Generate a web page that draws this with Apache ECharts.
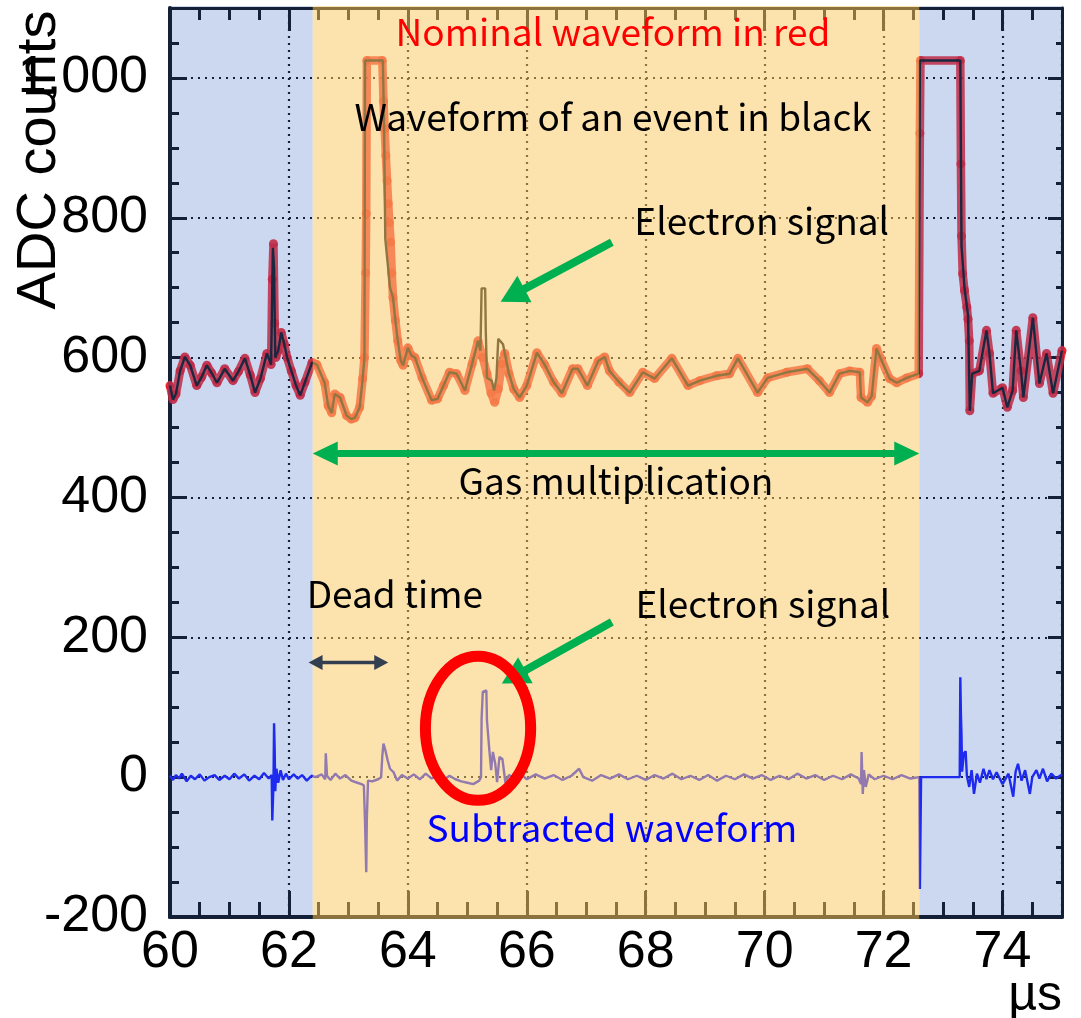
<!DOCTYPE html>
<html>
<head>
<meta charset="utf-8">
<script src="https://cdn.jsdelivr.net/npm/echarts@6/dist/echarts.min.js"></script>
<style>
  html, body { margin: 0; padding: 0; background: #fff; }
  #main { width: 1081px; height: 1018px; }
</style>
</head>
<body>
<div id="main"></div>
<script>
// time (us), ADC counts -- nominal waveform (red)
var nominalWave = [
  [60.00, 560], [60.05, 540], [60.10, 548], [60.17, 581], [60.25, 601], [60.34, 589],
  [60.45, 560], [60.53, 572], [60.62, 589], [60.70, 578], [60.79, 564], [60.92, 584],
  [61.06, 567], [61.15, 580], [61.26, 599], [61.35, 575], [61.43, 550], [61.52, 570],
  [61.63, 606], [61.70, 590], [61.72, 712], [61.74, 763], [61.76, 649], [61.78, 600],
  [61.82, 610], [61.87, 636], [61.92, 620], [61.97, 600], [62.04, 581], [62.12, 560],
  [62.19, 546], [62.27, 565], [62.39, 593], [62.47, 590], [62.60, 564], [62.66, 531],
  [62.72, 521], [62.77, 548], [62.86, 543], [62.97, 517], [63.05, 512], [63.11, 514],
  [63.19, 529], [63.24, 570], [63.27, 600], [63.29, 721], [63.30, 806], [63.31, 1025],
  [63.57, 1025], [63.59, 967], [63.61, 927], [63.63, 889], [63.65, 853], [63.67, 820],
  [63.69, 793], [63.71, 765], [63.73, 721], [63.75, 686], [63.79, 653], [63.83, 624],
  [63.88, 596], [63.92, 589], [64.00, 614], [64.06, 603], [64.12, 600], [64.24, 571],
  [64.40, 539], [64.50, 541], [64.60, 560], [64.70, 579], [64.82, 577], [64.96, 553],
  [65.08, 591], [65.18, 624], [65.26, 600], [65.33, 577], [65.40, 549], [65.46, 536],
  [65.52, 555], [65.58, 591], [65.63, 606], [65.70, 577], [65.78, 555], [65.88, 543],
  [66.00, 560], [66.17, 607], [66.30, 590], [66.45, 565], [66.59, 549], [66.77, 584],
  [66.86, 584], [67.02, 560], [67.20, 595], [67.31, 601], [67.39, 581], [67.55, 565],
  [67.73, 550], [67.95, 579], [68.15, 570], [68.44, 599], [68.71, 560], [68.91, 567],
  [69.19, 574], [69.41, 577], [69.55, 599], [69.88, 550], [70.05, 571], [70.37, 579],
  [70.72, 584], [70.92, 567], [71.09, 550], [71.26, 577], [71.43, 581], [71.60, 579],
  [71.62, 543], [71.73, 536], [71.80, 545], [71.88, 613], [71.95, 599], [72.10, 570],
  [72.22, 564], [72.39, 571], [72.59, 577], [72.61, 921], [72.62, 1025], [73.29, 1025],
  [73.30, 877], [73.31, 774], [73.33, 720], [73.36, 696], [73.40, 672], [73.42, 655],
  [73.44, 624], [73.45, 524], [73.49, 577], [73.61, 581], [73.73, 639], [73.78, 606],
  [73.84, 549], [74.00, 557], [74.08, 529], [74.17, 553], [74.23, 639], [74.31, 581],
  [74.35, 543], [74.51, 657], [74.62, 563], [74.74, 606], [74.85, 549], [75.00, 610]
];

// waveform of one event (black)
var eventWave = [
  [60.00, 560], [60.05, 540], [60.10, 548], [60.17, 581], [60.25, 601], [60.34, 589],
  [60.45, 560], [60.53, 572], [60.62, 589], [60.70, 578], [60.79, 564], [60.92, 584],
  [61.06, 567], [61.15, 580], [61.26, 599], [61.35, 575], [61.43, 550], [61.52, 570],
  [61.63, 606], [61.70, 590], [61.73, 757], [61.75, 728], [61.77, 600], [61.82, 610],
  [61.87, 636], [61.92, 620], [61.97, 600], [62.04, 581], [62.12, 560], [62.19, 546],
  [62.27, 565], [62.39, 593], [62.47, 590], [62.60, 564], [62.66, 531], [62.72, 521],
  [62.77, 548], [62.86, 543], [62.97, 517], [63.05, 512], [63.11, 514], [63.19, 529],
  [63.24, 570], [63.27, 600], [63.28, 1025], [63.58, 1025], [63.60, 930], [63.62, 770],
  [63.70, 700], [63.75, 686], [63.79, 653], [63.83, 624], [63.88, 596], [63.92, 589],
  [64.00, 614], [64.06, 603], [64.12, 600], [64.24, 571], [64.40, 539], [64.50, 541],
  [64.60, 560], [64.70, 579], [64.82, 577], [64.96, 553], [65.08, 591], [65.18, 624],
  [65.22, 610], [65.24, 699], [65.30, 699], [65.31, 639], [65.33, 571], [65.41, 567],
  [65.45, 553], [65.49, 571], [65.52, 627], [65.60, 619], [65.63, 606], [65.70, 577],
  [65.78, 555], [65.88, 543], [66.00, 560], [66.17, 607], [66.30, 590], [66.45, 565],
  [66.59, 549], [66.77, 584], [66.86, 584], [67.02, 560], [67.20, 595], [67.31, 601],
  [67.39, 581], [67.55, 565], [67.73, 550], [67.95, 579], [68.15, 570], [68.44, 599],
  [68.71, 560], [68.91, 567], [69.19, 574], [69.41, 577], [69.55, 599], [69.88, 550],
  [70.05, 571], [70.37, 579], [70.72, 584], [70.92, 567], [71.09, 550], [71.26, 577],
  [71.43, 581], [71.60, 579], [71.62, 543], [71.73, 536], [71.80, 545], [71.88, 613],
  [71.95, 599], [72.10, 570], [72.22, 564], [72.39, 571], [72.59, 577], [72.61, 1025],
  [73.29, 1025], [73.31, 760], [73.36, 700], [73.42, 660], [73.45, 524], [73.49, 577],
  [73.61, 581], [73.73, 639], [73.78, 606], [73.84, 549], [74.00, 557], [74.08, 529],
  [74.17, 553], [74.23, 639], [74.31, 581], [74.35, 543], [74.51, 657], [74.62, 563],
  [74.74, 606], [74.85, 549], [75.00, 610]
];

// event minus nominal (blue)
var subtractedWave = [
  [60.00, 2], [60.05, -4], [60.10, 3], [60.15, -2], [60.20, 5], [60.28, -6], [60.35, 2],
  [60.42, -3], [60.50, 4], [60.58, -5], [60.66, 0], [60.75, 3], [60.83, -4], [60.92, 2],
  [61.00, -3], [61.08, 5], [61.16, -2], [61.25, 4], [61.33, -5], [61.42, 2], [61.50, -3],
  [61.58, 6], [61.66, -2], [61.71, 3], [61.72, -62], [61.74, -10], [61.75, 77], [61.76, 40],
  [61.77, -20], [61.79, 12], [61.82, -8], [61.86, 10], [61.90, -4], [61.95, 5], [62.00, -3],
  [62.08, 4], [62.15, -2], [62.22, 3], [62.30, -5], [62.38, 2], [62.45, 0], [62.55, 4],
  [62.61, -3], [62.62, 34], [62.64, 2], [62.70, -4], [62.78, 5], [62.86, -2], [62.95, 3],
  [63.05, -5], [63.15, -8], [63.22, -10], [63.26, -12], [63.28, -66], [63.30, -136],
  [63.31, -60], [63.33, -5], [63.40, -6], [63.50, -3], [63.55, 0], [63.57, 30], [63.59, 48],
  [63.62, 39], [63.66, 24], [63.70, 12], [63.76, 7], [63.82, -5], [63.90, 3], [64.00, -2],
  [64.10, 4], [64.20, -3], [64.30, 5], [64.40, -2], [64.50, 3], [64.60, -4], [64.70, 2],
  [64.80, -3], [64.90, -6], [65.00, -8], [65.10, -10], [65.20, -5], [65.23, 0], [65.24, 84],
  [65.26, 122], [65.32, 124], [65.33, 81], [65.37, 39], [65.40, 10], [65.43, 36], [65.47, 19],
  [65.50, -7], [65.54, 29], [65.59, 26], [65.64, -8], [65.70, 3], [65.80, -2], [65.90, 5],
  [66.00, -3], [66.15, 4], [66.30, -2], [66.45, 3], [66.60, -4], [66.75, 2], [66.88, 12],
  [66.95, 0], [67.10, -5], [67.25, 3], [67.40, -2], [67.55, 4], [67.70, -3], [67.85, 2],
  [68.00, -4], [68.15, 3], [68.30, -2], [68.45, 5], [68.60, -3], [68.75, 2], [68.90, -4],
  [69.05, 3], [69.20, -5], [69.35, 2], [69.50, -3], [69.65, 4], [69.80, -2], [69.95, 3],
  [70.10, -4], [70.25, 2], [70.40, -3], [70.55, 5], [70.70, -2], [70.85, 3], [71.00, -4],
  [71.15, 2], [71.30, -3], [71.45, 4], [71.58, -2], [71.62, -10], [71.63, 36], [71.65, -24],
  [71.67, 10], [71.70, -14], [71.75, 4], [71.85, -3], [72.00, 2], [72.15, -3], [72.30, 3],
  [72.45, -2], [72.60, 0], [72.61, -160], [72.63, 0], [73.28, 0], [73.29, 143], [73.30, 90],
  [73.31, 60], [73.32, 8], [73.35, 34], [73.38, 37], [73.40, 2], [73.44, -14], [73.48, 10],
  [73.52, -24], [73.57, 5], [73.62, -8], [73.68, 12], [73.73, -3], [73.78, 10], [73.84, -3],
  [73.90, 7], [74.00, -10], [74.10, 5], [74.18, -28], [74.22, 8], [74.26, 19], [74.32, -5],
  [74.38, 10], [74.46, -24], [74.50, 0], [74.57, 10], [74.62, -2], [74.68, 12], [74.75, -6],
  [74.82, 5], [74.90, -2], [75.00, 4]
];

// shaded time windows (us)
var outsideWindows = [[60, 62.4], [72.6, 75]];
var gasWindow = [62.4, 72.6];

var xRange = [60, 75];
var yRange = [-200, 1100];

var dom = document.getElementById('main');
var myChart = echarts.init(dom);

var tickFont = 'Liberation Sans, Arial, sans-serif';
var noteFont = '"Noto Sans CJK JP", "Noto Sans", sans-serif';

function frameAxis(pos, interval, len, major, lineWidth) {
  var isX = pos === 'bottom' || pos === 'top';
  var ax = {
    type: 'value',
    position: pos,
    min: isX ? xRange[0] : yRange[0],
    max: isX ? xRange[1] : yRange[1],
    interval: interval,
    axisLine: { show: major, onZero: false, lineStyle: { color: '#000', width: lineWidth } },
    axisTick: { show: true, inside: true, length: len, lineStyle: { color: '#000', width: 3 } },
    axisLabel: { show: false },
    splitLine: { show: false }
  };
  return ax;
}

var xMain = frameAxis('bottom', 2, 26, true, 4);
xMain.axisLabel = {
  show: true, margin: 10, fontSize: 52, color: '#000', fontFamily: tickFont,
  showMaxLabel: false
};
xMain.splitLine = { show: true, lineStyle: { color: '#000', width: 2.2, type: [2, 5] } };

var yMain = frameAxis('left', 200, 17, true, 4);
yMain.axisLabel = {
  show: true, margin: 22, fontSize: 52, color: '#000', fontFamily: tickFont,
  showMaxLabel: false
};
yMain.splitLine = { show: true, lineStyle: { color: '#000', width: 2.2, type: [2, 5] } };

var option = {
  backgroundColor: '#fff',
  animation: false,
  grid: { left: 170, right: 19, top: 8, bottom: 101, containLabel: false },
  xAxis: [
    xMain,
    frameAxis('bottom', 0.5, 15, false, 0),
    frameAxis('top', 2, 23, true, 3),
    frameAxis('top', 0.5, 12, false, 0)
  ],
  yAxis: [
    yMain,
    frameAxis('left', 50, 9, false, 0),
    frameAxis('right', 200, 14, true, 3),
    frameAxis('right', 50, 6, false, 0)
  ],
  series: [
    {
      name: 'Nominal',
      type: 'line',
      data: nominalWave,
      z: 3,
      symbol: 'circle',
      symbolSize: 9,
      showSymbol: true,
      itemStyle: { color: '#f01018', opacity: 0.9 },
      lineStyle: { color: '#f01018', width: 8.5, opacity: 0.85 }
    },
    {
      name: 'Event',
      type: 'line',
      data: eventWave,
      z: 4,
      showSymbol: false,
      lineStyle: { color: '#0a0a0a', width: 2.4 }
    },
    {
      name: 'Subtracted',
      type: 'line',
      data: subtractedWave,
      z: 4,
      showSymbol: false,
      lineStyle: { color: '#1010ff', width: 2.4 }
    }
  ]
};

myChart.setOption(option);

function toPx(t, v) {
  return myChart.convertToPixel({ gridIndex: 0 }, [t, v]);
}

function arrowEls(a, b, color, width, headLen, headW, both) {
  var dx = b[0] - a[0], dy = b[1] - a[1];
  var len = Math.sqrt(dx * dx + dy * dy);
  var ux = dx / len, uy = dy / len, nx = -uy, ny = ux;
  var s0 = both ? [a[0] + ux * (headLen - 2), a[1] + uy * (headLen - 2)] : a;
  var s1 = [b[0] - ux * (headLen - 2), b[1] - uy * (headLen - 2)];
  var els = [{
    type: 'line', z: 30, silent: true,
    shape: { x1: s0[0], y1: s0[1], x2: s1[0], y2: s1[1] },
    style: { stroke: color, lineWidth: width }
  }];
  function head(tip, ox, oy) {
    var bx = tip[0] - ox * headLen, by = tip[1] - oy * headLen;
    return {
      type: 'polygon', z: 30, silent: true,
      shape: { points: [tip, [bx + nx * headW / 2, by + ny * headW / 2], [bx - nx * headW / 2, by - ny * headW / 2]] },
      style: { fill: color }
    };
  }
  els.push(head(b, ux, uy));
  if (both) els.push(head(a, -ux, -uy));
  return els;
}

function note(text, t, v, color) {
  var p = toPx(t, v);
  return {
    type: 'text', z: 40, silent: true, x: p[0], y: p[1],
    style: {
      text: text, fill: color, fontSize: 37, fontFamily: noteFont,
      align: 'center', verticalAlign: 'middle'
    }
  };
}

function buildGraphics() {
  var lt = toPx(xRange[0], yRange[1]);
  var rb = toPx(xRange[1], yRange[0]);
  var els = [];
  outsideWindows.forEach(function (w, i) {
    var p0 = toPx(w[0], yRange[1]);
    var p1 = toPx(w[1], yRange[0]);
    var x0 = i === 0 ? p0[0] - 2 : p0[0];
    var x1 = i === outsideWindows.length - 1 ? p1[0] + 2 : p1[0];
    els.push({
      type: 'rect', z: 20, silent: true,
      shape: { x: x0, y: lt[1] - 2, width: x1 - x0, height: rb[1] - lt[1] + 4 },
      style: { fill: 'rgba(68,114,196,0.28)' }
    });
  });
  var g0 = toPx(gasWindow[0], yRange[1]);
  var g1 = toPx(gasWindow[1], yRange[0]);
  els.push({
    type: 'rect', z: 20, silent: true,
    shape: { x: g0[0], y: lt[1] - 2, width: g1[0] - g0[0], height: rb[1] - lt[1] + 4 },
    style: { fill: 'rgba(250,205,110,0.56)' }
  });

  var green = '#00b050';
  els = els.concat(arrowEls(toPx(gasWindow[0], 463), toPx(gasWindow[1], 463), green, 7, 25, 24, true));
  els = els.concat(arrowEls(toPx(67.43, 765), toPx(65.56, 680), green, 8, 27, 30, false));
  els = els.concat(arrowEls(toPx(67.43, 222), toPx(65.58, 134), green, 8, 27, 30, false));
  els = els.concat(arrowEls(toPx(62.33, 164), toPx(63.67, 164), '#333f50', 3.5, 14, 15, true));

  var c = toPx(65.18, 70);
  var e = toPx(65.18 + 0.885, 70 + 103);
  els.push({
    type: 'ellipse', z: 35, silent: true,
    shape: { cx: c[0], cy: c[1], rx: e[0] - c[0], ry: c[1] - e[1] },
    style: { fill: 'none', stroke: '#ff0000', lineWidth: 11 }
  });

  els.push(note('Nominal waveform in red', 67.45, 1066, '#ff0000'));
  els.push(note('Waveform of an event in black', 67.45, 944, '#000'));
  els.push(note('Electron signal', 69.95, 796, '#000'));
  els.push(note('Gas multiplication', 67.5, 423, '#000'));
  els.push(note('Dead time', 63.78, 262, '#000'));
  els.push(note('Electron signal', 69.97, 248, '#000'));
  els.push(note('Subtracted waveform', 67.43, -72, '#0000ff'));

  els.push({
    type: 'text', z: 40, silent: true, x: 40, y: 160, rotation: Math.PI / 2,
    style: {
      text: 'ADC counts', fill: '#000', fontSize: 56, fontFamily: tickFont,
      align: 'center', verticalAlign: 'middle'
    }
  });
  els.push({
    type: 'text', z: 40, silent: true, x: rb[0], y: 1021,
    style: {
      text: '\u00b5s', fill: '#000', fontSize: 50, fontFamily: tickFont,
      align: 'right', verticalAlign: 'bottom'
    }
  });
  return els;
}

myChart.setOption({ graphic: buildGraphics() });
</script>
</body>
</html>
